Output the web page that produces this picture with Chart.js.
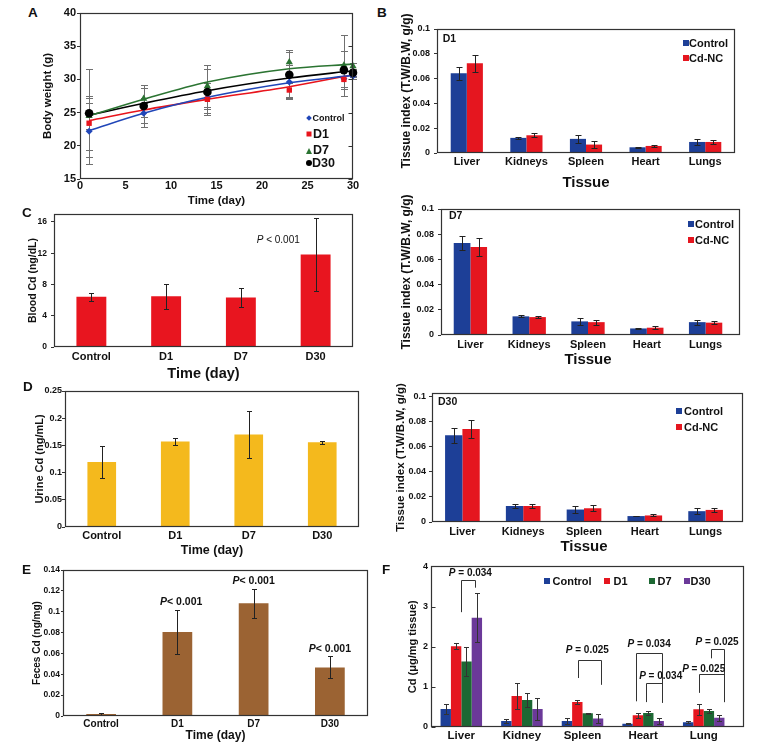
<!DOCTYPE html>
<html>
<head>
<meta charset="utf-8">
<title>Cd-NC distribution figure</title>
<script src="https://cdn.jsdelivr.net/npm/chart.js@4.4.0/dist/chart.umd.min.js"></script>
<style>
  html, body { margin: 0; padding: 0; background: #fff; }
  #fig { position: relative; width: 762px; height: 746px; overflow: hidden; background: #fff;
         font-family: "Liberation Sans", Arial, Helvetica, sans-serif; font-weight: bold; color: #111; }
  .cbox { position: absolute; }
  .txt { position: absolute; line-height: 1; white-space: nowrap; transform: translateY(-50%); }
  .sym { position: absolute; transform: translate(-50%, -50%); }
</style>
</head>
<body>
<div id="fig"></div>
<script>
// ══════════════════════════════════════════
// DATA
// ══════════════════════════════════════════

// A - body weight (g) over time
const days = [1, 7, 14, 23, 29, 30];
const ctrlWeight = [22.2, 24.9, 27.2, 29.6, 30.1, 30.5];
const d1Weight   = [23.4, 25.8, 27.0, 28.4, 30.0, 30.9];
const d7Weight   = [24.5, 27.1, 29.0, 32.6, 32.1, 32.0];
const d30Weight  = [24.9, 26.0, 28.1, 30.7, 31.4, 31.0];
const ctrlWeightSd = [5.0, 1.5, 2.3, 2.5, 1.5, 0.5];
const d1WeightSd   = [4.1, 1.4, 1.5, 1.0, 1.2, 0.5];
const d7WeightSd   = [2.0, 1.6, 3.1, 1.8, 4.6, 0.5];
const d30WeightSd  = [6.6, 3.2, 3.5, 3.5, 2.9, 0.5];
// fitted trend curves
const fitDays = [1, 7, 14, 23, 30];
const ctrlFit = [22.3, 24.9, 27.3, 29.5, 30.6];
const d1Fit   = [23.8, 25.4, 27.0, 28.9, 30.7];
const d7Fit   = [24.5, 27.0, 29.6, 31.6, 32.3];
const d30Fit  = [24.6, 26.4, 28.3, 30.2, 31.3];

// B - tissue index (T.W/B.W, g/g)
const tissues = ['Liver', 'Kidneys', 'Spleen', 'Heart', 'Lungs'];
const d1Control   = [0.0643, 0.0122, 0.0114, 0.0046, 0.0089];
const d1ControlSd = [0.0054, 0.0010, 0.0030, 0.0004, 0.0025];
const d1CdNC      = [0.0724, 0.0143, 0.0068, 0.0057, 0.0089];
const d1CdNCSd    = [0.0068, 0.0015, 0.0027, 0.0010, 0.0015];
const d7Control   = [0.0730, 0.0148, 0.0108, 0.0052, 0.0102];
const d7ControlSd = [0.0058, 0.0008, 0.0030, 0.0003, 0.0020];
const d7CdNC      = [0.0698, 0.0142, 0.0102, 0.0058, 0.0098];
const d7CdNCSd    = [0.0069, 0.0010, 0.0020, 0.0010, 0.0013];
const d30Control   = [0.0688, 0.0127, 0.0099, 0.0047, 0.0086];
const d30ControlSd = [0.0060, 0.0012, 0.0030, 0.0003, 0.0023];
const d30CdNC      = [0.0738, 0.0127, 0.0109, 0.0052, 0.0096];
const d30CdNCSd    = [0.0074, 0.0013, 0.0025, 0.0008, 0.0013];

// C, D, E - Cd levels by group
const groups = ['Control', 'D1', 'D7', 'D30'];
const bloodCd   = [6.43, 6.50, 6.34, 11.83];
const bloodCdSd = [0.53, 1.60, 1.25, 4.70];
const urineCd   = [0.1195, 0.157, 0.170, 0.156];
const urineCdSd = [0.030, 0.007, 0.043, 0.003];
const fecesCd   = [0.0019, 0.0806, 0.108, 0.0466];
const fecesCdSd = [0.0008, 0.0210, 0.014, 0.0106];

// F - Cd in tissue (ug/mg tissue)
const organs = ['Liver', 'Kidney', 'Spleen', 'Heart', 'Lung'];
const cdControl   = [0.45, 0.15, 0.15, 0.08, 0.12];
const cdControlSd = [0.13, 0.05, 0.08, 0.01, 0.03];
const cdD1   = [2.01, 0.77, 0.62, 0.29, 0.44];
const cdD1Sd = [0.07, 0.33, 0.05, 0.07, 0.14];
const cdD7   = [1.63, 0.67, 0.34, 0.35, 0.40];
const cdD7Sd = [0.37, 0.18, 0.01, 0.05, 0.05];
const cdD30   = [2.72, 0.45, 0.21, 0.15, 0.23];
const cdD30Sd = [0.61, 0.27, 0.11, 0.07, 0.07];

// significance notes (x = category index, y = axis value)
const bloodNotes = [{ x: 2.5, y: 13.7, text: 'P < 0.001' }];
const fecesNotes = [
  { x: 1.05, y: 0.1096, text: 'P< 0.001' },
  { x: 2.0,  y: 0.1294, text: 'P< 0.001' },
  { x: 3.0,  y: 0.064,  text: 'P< 0.001' },
];
const cdBrackets = [
  { x1: 0.0,  x2: 0.22, top: 3.65, left: 2.86, right: 3.47 },
  { x1: 1.92, x2: 2.30, top: 1.68, left: 1.22, right: 1.05 },
  { x1: 2.89, x2: 3.32, top: 1.85, left: 0.64, right: 0.60 },
  { x1: 3.05, x2: 3.32, top: 1.10, left: 0.62, right: 0.62 },
  { x1: 3.92, x2: 4.33, top: 1.31, left: 0.85, right: 0.62 },
  { x1: 4.12, x2: 4.33, top: 1.95, left: 1.71, right: 0.62 },
];
const cdNotes = [
  { x: 0.15, y: 3.83, text: 'P = 0.034' },
  { x: 2.08, y: 1.90, text: 'P = 0.025' },
  { x: 3.10, y: 2.05, text: 'P = 0.034' },
  { x: 3.29, y: 1.27, text: 'P = 0.034' },
  { x: 4.00, y: 1.45, text: 'P = 0.025' },
  { x: 4.22, y: 2.11, text: 'P = 0.025' },
];

// ══════════════════════════════════════════
// HELPERS
// ══════════════════════════════════════════
const FONT = '"Liberation Sans", Arial, Helvetica, sans-serif';
const BLUE = '#1d3f97', RED = '#e5161f', GREEN = '#1d6833', PURPLE = '#6b3999';
const fig = document.getElementById('fig');
const fnt = (size, weight = 'bold') => ({ family: FONT, size, weight, lineHeight: 1.2 });

function makeCanvas(g) {
  const wrap = document.createElement('div');
  wrap.className = 'cbox';
  wrap.style.cssText = `left:${g.cl}px;top:${g.ct}px;width:${g.cr - g.cl}px;height:${g.cb - g.ct}px`;
  const cv = document.createElement('canvas');
  wrap.appendChild(cv);
  fig.appendChild(wrap);
  return cv;
}

function drawErr(chart, o) {
  const { ctx } = chart;
  const ys = chart.scales.y;
  ctx.save();
  ctx.strokeStyle = o.color || '#222';
  ctx.lineWidth = o.width || 1;
  chart.data.datasets.forEach((ds, i) => {
    if (!ds.errors) return;
    chart.getDatasetMeta(i).data.forEach((el, j) => {
      const raw = ds.data[j];
      const v = typeof raw === 'object' ? raw.y : raw;
      const e = ds.errors[j];
      const x = Math.round(el.x) + 0.5;
      const t = Math.round(ys.getPixelForValue(v + e)) + 0.5;
      const b = Math.round(ys.getPixelForValue(Math.max(v - e, ys.min))) + 0.5;
      const h = o.cap / 2;
      ctx.beginPath();
      ctx.moveTo(x, t); ctx.lineTo(x, b);
      ctx.moveTo(x - h, t); ctx.lineTo(x + h, t);
      ctx.moveTo(x - h, b); ctx.lineTo(x + h, b);
      ctx.stroke();
    });
  });
  ctx.restore();
}

const errorBarPlugin = {
  id: 'errorBars',
  beforeDatasetsDraw(chart, args, o) { if (o.below) drawErr(chart, o); },
  afterDatasetsDraw(chart, args, o) { if (!o.below) drawErr(chart, o); }
};

const framePlugin = {
  id: 'frame',
  afterDraw(chart, args, o) {
    const { ctx, chartArea: a } = chart;
    const ext = o.ext || 0;
    const l = Math.round(a.left) + 0.5, r = Math.round(a.right + ext) - 0.5;
    const t = Math.round(a.top) + 0.5, b = Math.round(a.bottom) - 0.5;
    ctx.save();
    ctx.strokeStyle = '#333';
    ctx.lineWidth = 1.2;
    ctx.strokeRect(l, t, r - l, b - t);
    if (o.ticksRight || o.ticksLeft) {
      const ys = chart.scales.y;
      ctx.beginPath();
      ys.ticks.forEach(tk => {
        const py = Math.round(ys.getPixelForValue(tk.value)) + 0.5;
        if (o.ticksRight) { ctx.moveTo(r, py); ctx.lineTo(r - 4, py); }
        if (o.ticksLeft) { ctx.moveTo(l, py); ctx.lineTo(l + 4, py); }
      });
      ctx.stroke();
    }
    ctx.restore();
  }
};

// "P" in italics, the rest upright, centred on (x, y)
function drawP(ctx, x, y, text, size, weight) {
  const fP = `italic ${weight} ${size}px ${FONT}`, fR = `${weight} ${size}px ${FONT}`;
  const rest = text.slice(1);
  ctx.font = fP; const wp = ctx.measureText('P').width;
  ctx.font = fR; const wr = ctx.measureText(rest).width;
  const x0 = x - (wp + wr) / 2;
  ctx.fillStyle = '#111';
  ctx.textBaseline = 'middle';
  ctx.textAlign = 'left';
  ctx.font = fP; ctx.fillText('P', x0, y);
  ctx.font = fR; ctx.fillText(rest, x0 + wp, y);
}

const notesPlugin = {
  id: 'notes',
  afterDatasetsDraw(chart, args, o) {
    const { ctx } = chart;
    const xs = chart.scales.x, ys = chart.scales.y;
    ctx.save();
    ctx.strokeStyle = '#333';
    ctx.lineWidth = 1;
    (o.brackets || []).forEach(b => {
      const x1 = Math.round(xs.getPixelForValue(b.x1)) + 0.5;
      const x2 = Math.round(xs.getPixelForValue(b.x2)) + 0.5;
      const yt = Math.round(ys.getPixelForValue(b.top)) + 0.5;
      ctx.beginPath();
      ctx.moveTo(x1, ys.getPixelForValue(b.left));
      ctx.lineTo(x1, yt); ctx.lineTo(x2, yt);
      ctx.lineTo(x2, ys.getPixelForValue(b.right));
      ctx.stroke();
    });
    (o.labels || []).forEach(n =>
      drawP(ctx, xs.getPixelForValue(n.x), ys.getPixelForValue(n.y), n.text, o.size || 10, o.weight || 'bold'));
    ctx.restore();
  }
};

// ticks at every multiple of step from 0 up to max
function stepTicks(s, step) {
  const out = [];
  for (let k = 0; k * step <= s.max + 1e-9; k++) out.push({ value: +(k * step).toFixed(6) });
  s.ticks = out;
}

// g: canvas box (cl, ct, cr, cb) and plot box (L, T, R, B) in page pixels
function barChart(g, c) {
  const cv = makeCanvas(g);
  return new Chart(cv, {
    type: 'bar',
    data: {
      labels: c.labels,
      datasets: c.sets.map(s => ({
        label: s.label, data: s.data, errors: s.err, backgroundColor: s.color,
        borderWidth: 0, categoryPercentage: c.cat, barPercentage: 1
      }))
    },
    options: {
      responsive: true, maintainAspectRatio: false, animation: false,
      layout: { autoPadding: false, padding: { top: g.T - g.ct, right: g.cr - g.R, left: 0, bottom: 0 } },
      plugins: {
        legend: { display: false }, tooltip: { enabled: false },
        errorBars: { color: c.errColor || '#222', cap: c.cap || 6, width: 1 },
        frame: { ext: c.ext || 0, ticksLeft: !!c.innerTicks },
        notes: c.notes || {}
      },
      scales: {
        x: {
          ticks: { font: fnt(c.catSize), color: '#111', padding: c.catPad },
          grid: { display: false, drawTicks: false },
          border: { display: false },
          title: { display: !!c.xTitle, text: c.xTitle, font: fnt(c.xTitleSize), color: '#111', padding: 0 },
          afterFit: s => { s.height = g.cb - g.B; }
        },
        y: {
          min: 0, max: c.yMax,
          afterBuildTicks: s => stepTicks(s, c.step),
          ticks: { font: fnt(c.tickSize), color: '#111', padding: c.tickPad,
                   callback: v => String(+v.toFixed(3)) },
          grid: { drawOnChartArea: false, drawTicks: c.tickLen > 0, tickLength: c.tickLen, color: '#333' },
          border: { display: false },
          title: { display: true, text: c.yTitle, font: fnt(c.yTitleSize), color: '#111', padding: 0 },
          afterFit: s => { s.width = g.L - g.cl; }
        }
      }
    },
    plugins: [errorBarPlugin, framePlugin, notesPlugin]
  });
}

// ══════════════════════════════════════════
// A - body weight
// ══════════════════════════════════════════
function weightChart(g) {
  const cv = makeCanvas(g);
  const series = [
    { y: ctrlWeight, sd: ctrlWeightSd, fit: ctrlFit, color: '#2046b8', style: 'rectRot', r: 3.5, order: 4 },
    { y: d1Weight,   sd: d1WeightSd,   fit: d1Fit,   color: '#e8141c', style: 'rect',    r: 3.8, order: 3 },
    { y: d7Weight,   sd: d7WeightSd,   fit: d7Fit,   color: '#2b7432', style: 'triangle', r: 4.2, order: 2 },
    { y: d30Weight,  sd: d30WeightSd,  fit: d30Fit,  color: '#000000', style: 'circle',  r: 4.3, order: 1 },
  ];
  const datasets = [];
  series.forEach(s => datasets.push({
    data: fitDays.map((d, i) => ({ x: d, y: s.fit[i] })), showLine: true, pointRadius: 0,
    borderColor: s.color, borderWidth: 1.6, tension: 0.4, cubicInterpolationMode: 'monotone', order: 10
  }));
  series.forEach(s => datasets.push({
    data: days.map((d, i) => ({ x: d, y: s.y[i] })), errors: s.sd, clip: false,
    backgroundColor: s.color, borderColor: s.color, borderWidth: 0,
    pointStyle: s.style, pointRadius: s.r, order: s.order
  }));
  new Chart(cv, {
    type: 'scatter',
    data: { datasets },
    options: {
      responsive: true, maintainAspectRatio: false, animation: false,
      layout: { autoPadding: false, padding: { top: g.T - g.ct, right: g.cr - g.R, left: 0, bottom: 0 } },
      plugins: {
        legend: { display: false }, tooltip: { enabled: false },
        errorBars: { color: '#707070', cap: 7, width: 1, below: true },
        frame: { ticksRight: true }
      },
      scales: {
        x: {
          type: 'linear', min: 0, max: 30,
          ticks: { stepSize: 5, font: fnt(11), color: '#111', padding: 0 },
          grid: { display: false, drawTicks: false },
          border: { display: false },
          title: { display: true, text: 'Time (day)', font: fnt(11.5), color: '#111', padding: 0 },
          afterFit: s => { s.height = g.cb - g.B; }
        },
        y: {
          min: 15, max: 40,
          ticks: { stepSize: 5, font: fnt(11), color: '#111', padding: 1 },
          grid: { drawOnChartArea: false, drawTicks: true, tickLength: 3, color: '#333' },
          border: { display: false },
          title: { display: true, text: 'Body weight (g)', font: fnt(11.5), color: '#111', padding: 0 },
          afterFit: s => { s.width = g.L - g.cl; }
        }
      }
    },
    plugins: [errorBarPlugin, framePlugin]
  });
}

weightChart({ cl: 41, ct: 5, cr: 361, cb: 208, L: 80, T: 13, R: 353, B: 179 });

// ══════════════════════════════════════════
// B - tissue index panels
// ══════════════════════════════════════════
const tissueCommon = {
  labels: tissues, yMax: 0.1, step: 0.02, tickSize: 9, tickLen: 3,
  catSize: 11, xTitle: 'Tissue', xTitleSize: 15,
  yTitle: 'Tissue index (T.W/B.W, g/g)', yTitleSize: 12, cap: 6
};
barChart({ cl: 399, ct: 0, cr: 740, cb: 192, L: 437, T: 29, R: 735, B: 153 }, {
  ...tissueCommon, cat: 0.54, tickPad: 4, catPad: 2,
  sets: [
    { label: 'Control', data: d1Control, err: d1ControlSd, color: BLUE },
    { label: 'Cd-NC', data: d1CdNC, err: d1CdNCSd, color: RED },
  ]
});
barChart({ cl: 399, ct: 186, cr: 746, cb: 369, L: 441, T: 209, R: 735, B: 335 }, {
  ...tissueCommon, cat: 0.567, tickPad: 4, catPad: 3, ext: 5,
  sets: [
    { label: 'Control', data: d7Control, err: d7ControlSd, color: BLUE },
    { label: 'Cd-NC', data: d7CdNC, err: d7CdNCSd, color: RED },
  ]
});
barChart({ cl: 394, ct: 372, cr: 747, cb: 556, L: 432, T: 393, R: 736, B: 522 }, {
  ...tissueCommon, yMax: 0.1024, cat: 0.57, tickPad: 3, catPad: 3, ext: 7, yTitleSize: 11.5,
  sets: [
    { label: 'Control', data: d30Control, err: d30ControlSd, color: BLUE },
    { label: 'Cd-NC', data: d30CdNC, err: d30CdNCSd, color: RED },
  ]
});

// ══════════════════════════════════════════
// C, D, E - blood / urine / feces
// ══════════════════════════════════════════
barChart({ cl: 27, ct: 205, cr: 360, cb: 383, L: 54, T: 213, R: 353, B: 347 }, {
  labels: groups, yMax: 17, step: 4, tickSize: 8.5, tickLen: 3, tickPad: 4,
  catSize: 11, catPad: 3, cat: 0.4, cap: 5,
  xTitle: 'Time (day)', xTitleSize: 14.5, yTitle: 'Blood Cd (ng/dL)', yTitleSize: 10.5,
  notes: { labels: bloodNotes, size: 10, weight: 'normal' },
  sets: [{ label: 'Blood Cd', data: bloodCd, err: bloodCdSd, color: '#e8151f' }]
});
barChart({ cl: 33, ct: 383, cr: 364, cb: 558, L: 65, T: 391, R: 359, B: 527 }, {
  labels: groups, yMax: 0.25, step: 0.05, tickSize: 9, tickLen: 3, tickPad: 0,
  catSize: 11, catPad: 2, cat: 0.39, cap: 5,
  xTitle: 'Time (day)', xTitleSize: 12.5, yTitle: 'Urine Cd (ng/mL)', yTitleSize: 11,
  sets: [{ label: 'Urine Cd', data: urineCd, err: urineCdSd, color: '#f4b91d' }]
});
barChart({ cl: 31, ct: 562, cr: 374, cb: 743, L: 63, T: 570, R: 368, B: 716 }, {
  labels: groups, yMax: 0.14, step: 0.02, tickSize: 8.5, tickLen: 2, tickPad: 1,
  catSize: 10, catPad: 2, cat: 0.39, cap: 5,
  xTitle: 'Time (day)', xTitleSize: 12, yTitle: 'Feces Cd (ng/mg)', yTitleSize: 10,
  notes: { labels: fecesNotes, size: 10.5, weight: 'bold' },
  sets: [{ label: 'Feces Cd', data: fecesCd, err: fecesCdSd, color: '#9b6333' }]
});

// ══════════════════════════════════════════
// F - Cd in tissues
// ══════════════════════════════════════════
barChart({ cl: 406, ct: 558, cr: 748, cb: 746, L: 431, T: 566, R: 734, B: 727 }, {
  labels: organs, yMax: 4, step: 1, tickSize: 9, tickLen: 0, tickPad: 3, innerTicks: true,
  catSize: 11.5, catPad: 2, cat: 0.685, cap: 5, ext: 10, errColor: '#333',
  yTitle: 'Cd (\u03bcg/mg tissue)', yTitleSize: 11,
  notes: { labels: cdNotes, brackets: cdBrackets, size: 10, weight: 'bold' },
  sets: [
    { label: 'Control', data: cdControl, err: cdControlSd, color: BLUE },
    { label: 'D1', data: cdD1, err: cdD1Sd, color: RED },
    { label: 'D7', data: cdD7, err: cdD7Sd, color: GREEN },
    { label: 'D30', data: cdD30, err: cdD30Sd, color: PURPLE },
  ]
});

// ══════════════════════════════════════════
// LETTERS, LEGENDS, INSET LABELS (html text)
// ══════════════════════════════════════════
function txt(text, x, y, size, extra) {
  const d = document.createElement('div');
  d.className = 'txt';
  d.textContent = text;
  d.style.cssText = `left:${x}px;top:${y}px;font-size:${size}px;${extra || ''}`;
  fig.appendChild(d);
}
function sym(shape, color, x, y, size) {
  const d = document.createElement('div');
  d.className = 'sym';
  let css = `left:${x}px;top:${y}px;`;
  if (shape === 'square') css += `width:${size}px;height:${size}px;background:${color};`;
  if (shape === 'circle') css += `width:${size}px;height:${size}px;background:${color};border-radius:50%;`;
  if (shape === 'diamond') css += `width:${size}px;height:${size}px;background:${color};transform:translate(-50%,-50%) rotate(45deg);`;
  if (shape === 'triangle') css += `width:0;height:0;border-left:${size / 2}px solid transparent;border-right:${size / 2}px solid transparent;border-bottom:${size}px solid ${color};`;
  d.style.cssText = css;
  fig.appendChild(d);
}

[['A', 28, 13], ['B', 377, 13], ['C', 22, 213], ['D', 23, 387], ['E', 22, 570], ['F', 382, 570]]
  .forEach(([t, x, y]) => txt(t, x, y, 13.5));

// A legend
sym('diamond', '#2046b8', 309, 117.5, 4);
txt('Control', 312.5, 117.5, 9);
sym('square', '#e8141c', 309, 133.5, 5);
txt('D1', 313, 134, 12.5);
sym('triangle', '#2b7432', 309, 150.5, 6);
txt('D7', 313, 149.5, 12.5);
sym('circle', '#000', 309, 162.7, 6);
txt('D30', 312, 162.7, 12.5);

// B legends + inset labels
[[685.5, 42.7, 58.3, 689, 442.7, 37.7, 'D1'],
 [690.5, 223.7, 240, 695, 449, 215, 'D7'],
 [678.8, 411.3, 426.7, 684, 438, 400.7, 'D30']].forEach(([sx, y1, y2, tx, lx, ly, lab]) => {
  sym('square', BLUE, sx, y1, 6);
  txt('Control', tx, y1, 11);
  sym('square', RED, sx, y2, 6);
  txt('Cd-NC', tx, y2, 11);
  txt(lab, lx, ly, 10.5);
});

// F legend
[[546.8, 552.5, BLUE, 'Control'], [607, 613.5, RED, 'D1'], [651.8, 657.5, GREEN, 'D7'], [687, 690.5, PURPLE, 'D30']]
  .forEach(([sx, tx, c, t]) => { sym('square', c, sx, 580.7, 6); txt(t, tx, 580.7, 11); });
</script>
</body>
</html>
